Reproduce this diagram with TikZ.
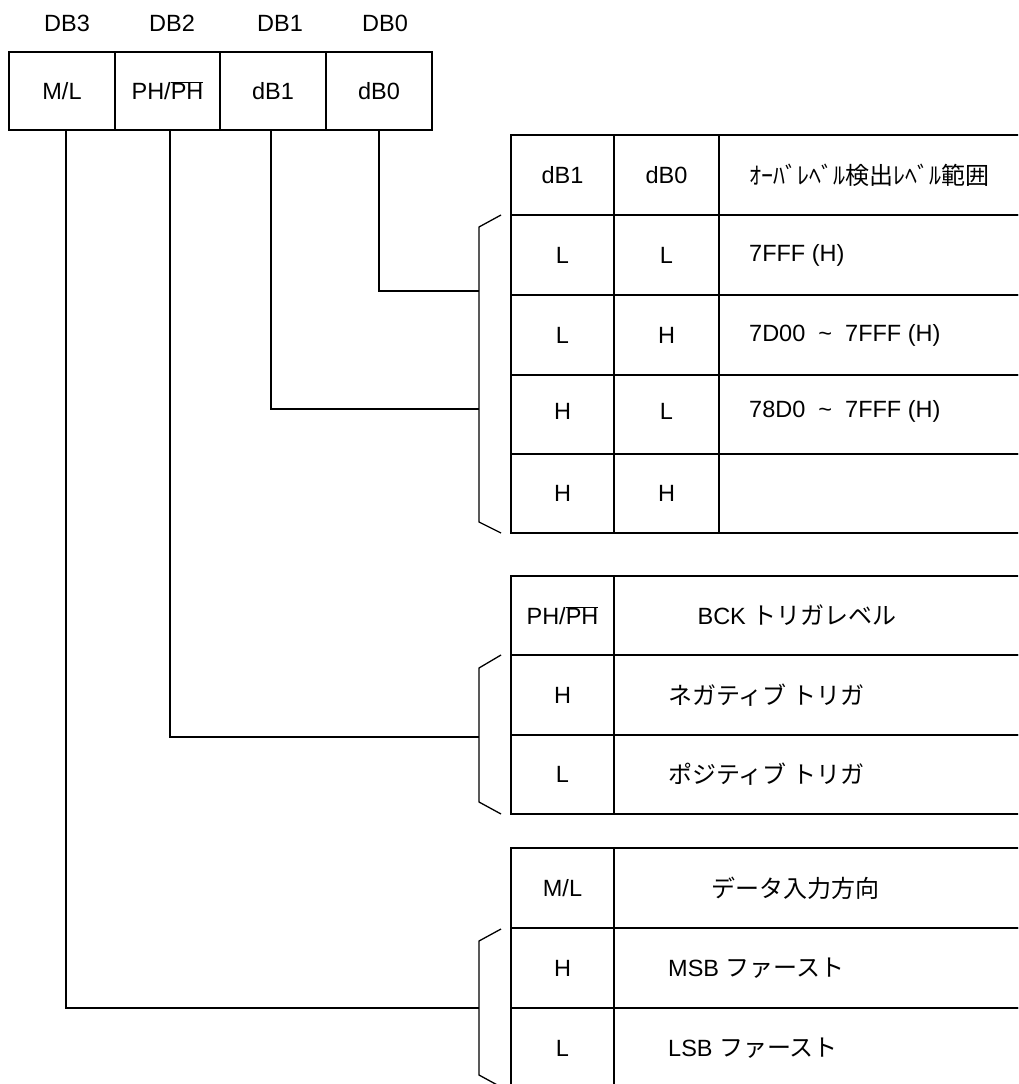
\documentclass[tikz,border=0pt]{standalone}
\usepackage{fontspec}
\setmainfont{Liberation Sans}
\newfontfamily\jpfont{Noto Sans CJK JP}
\newcommand\latsz{\fontsize{23.5}{28}\selectfont}
\newcommand\jp[1]{{\jpfont\fontsize{24}{28}\selectfont #1}}
\newcommand\ovl[1]{$\overline{\hbox{#1}}$}
\begin{document}
\begin{tikzpicture}[x=1pt,y=-1pt,
  cell/.style={draw=black, line width=1.4pt, inner sep=0pt, outer sep=0pt, anchor=north west, font=\latsz},
  lbl/.style={inner sep=0pt, font=\latsz},
  lblw/.style={inner sep=0pt, anchor=west, font=\latsz},
  ln/.style={draw=black, line width=1.3pt}]
\useasboundingbox (0,0) rectangle (1018,1084);
\clip (0,0) rectangle (1018,1084);

% register
\node[lbl] (l3) at (67,23) {DB3};
\node[lbl] (l2) at (172,23) {DB2};
\node[lbl] (l1) at (280,23) {DB1};
\node[lbl] (l0) at (385,23) {DB0};
\node[cell, minimum width=106pt, minimum height=78pt] (m)  at (9,52)   {M/L};
\node[cell, minimum width=105pt, minimum height=78pt] (p)  at (115,52) {PH/\ovl{PH}};
\node[cell, minimum width=106pt, minimum height=78pt] (d1) at (220,52) {dB1};
\node[cell, minimum width=106pt, minimum height=78pt] (d0) at (326,52) {dB0};

% table 1
\node[cell, minimum width=103pt, minimum height=80pt] (a00) at (511,135) {dB1};
\node[cell, minimum width=105pt, minimum height=80pt] (a01) at (614,135) {dB0};
\node[cell, minimum width=311pt, minimum height=80pt] (a02) at (719,135) {};
\node[lblw] (a0t) at (749,175) {\jp{ｵｰﾊﾞﾚﾍﾞﾙ検出ﾚﾍﾞﾙ範囲}};
\node[cell, minimum width=103pt, minimum height=80pt] (a10) at (511,215) {L};
\node[cell, minimum width=105pt, minimum height=80pt] (a11) at (614,215) {L};
\node[cell, minimum width=311pt, minimum height=80pt] (a12) at (719,215) {};
\node[lblw] (a1t) at (749,255) {7FFF (H)};
\node[cell, minimum width=103pt, minimum height=80pt] (a20) at (511,295) {L};
\node[cell, minimum width=105pt, minimum height=80pt] (a21) at (614,295) {H};
\node[cell, minimum width=311pt, minimum height=80pt] (a22) at (719,295) {};
\node[lblw] (a2t) at (749,335) {7D00\ \ \textasciitilde\ \ 7FFF (H)};
\node[cell, minimum width=103pt, minimum height=79pt] (a30) at (511,375) {};
\node[cell, minimum width=105pt, minimum height=79pt] (a31) at (614,375) {};
\node[cell, minimum width=311pt, minimum height=79pt] (a32) at (719,375) {};
\node[lbl] (a3a) at (562.5,411) {H};
\node[lbl] (a3b) at (666.5,411) {L};
\node[lblw] (a3t) at (749,411) {78D0\ \ \textasciitilde\ \ 7FFF (H)};
\node[cell, minimum width=103pt, minimum height=79pt] (a40) at (511,454) {H};
\node[cell, minimum width=105pt, minimum height=79pt] (a41) at (614,454) {H};
\node[cell, minimum width=311pt, minimum height=79pt] (a42) at (719,454) {};

% table 2
\node[cell, minimum width=103pt, minimum height=79pt] (b00) at (511,576) {PH/\ovl{PH}};
\node[cell, minimum width=416pt, minimum height=79pt] (b01) at (614,576) {};
\node[lbl] (b0t) at (797,615.5) {BCK \jp{トリガレベル}};
\node[cell, minimum width=103pt, minimum height=80pt] (b10) at (511,655) {H};
\node[cell, minimum width=416pt, minimum height=80pt] (b11) at (614,655) {};
\node[lblw] (b1t) at (668,695) {\jp{ネガティブ トリガ}};
\node[cell, minimum width=103pt, minimum height=79pt] (b20) at (511,735) {L};
\node[cell, minimum width=416pt, minimum height=79pt] (b21) at (614,735) {};
\node[lblw] (b2t) at (668,774.5) {\jp{ポジティブ トリガ}};

% table 3
\node[cell, minimum width=103pt, minimum height=80pt] (c00) at (511,848) {M/L};
\node[cell, minimum width=416pt, minimum height=80pt] (c01) at (614,848) {};
\node[lbl] (c0t) at (795,888) {\jp{データ入力方向}};
\node[cell, minimum width=103pt, minimum height=80pt] (c10) at (511,928) {H};
\node[cell, minimum width=416pt, minimum height=80pt] (c11) at (614,928) {};
\node[lblw] (c1t) at (668,968) {MSB \jp{ファースト}};
\node[cell, minimum width=103pt, minimum height=80pt] (c20) at (511,1008) {L};
\node[cell, minimum width=416pt, minimum height=80pt] (c21) at (614,1008) {};
\node[lblw] (c2t) at (668,1048) {LSB \jp{ファースト}};

% braces
\draw[ln] (501,215) -- (479,227) -- (479,522) -- (501,533);
\draw[ln] (501,655) -- (479,668) -- (479,802) -- (501,814);
\draw[ln] (501,929) -- (479,941) -- (479,1075) -- (501,1087);

% brace contact points
\coordinate (k0) at (479,291);
\coordinate (k1) at (479,409);
\coordinate (k2) at (479,737);
\coordinate (k3) at (479,1008);

% connectors
\draw[ln] (d0.south) |- (k0);
\draw[ln] ([xshift=-2pt]d1.south) |- (k1);
\draw[ln] ([xshift=2.5pt]p.south) |- (k2);
\draw[ln] ([xshift=4pt]m.south) |- (k3);
\end{tikzpicture}
\end{document}
